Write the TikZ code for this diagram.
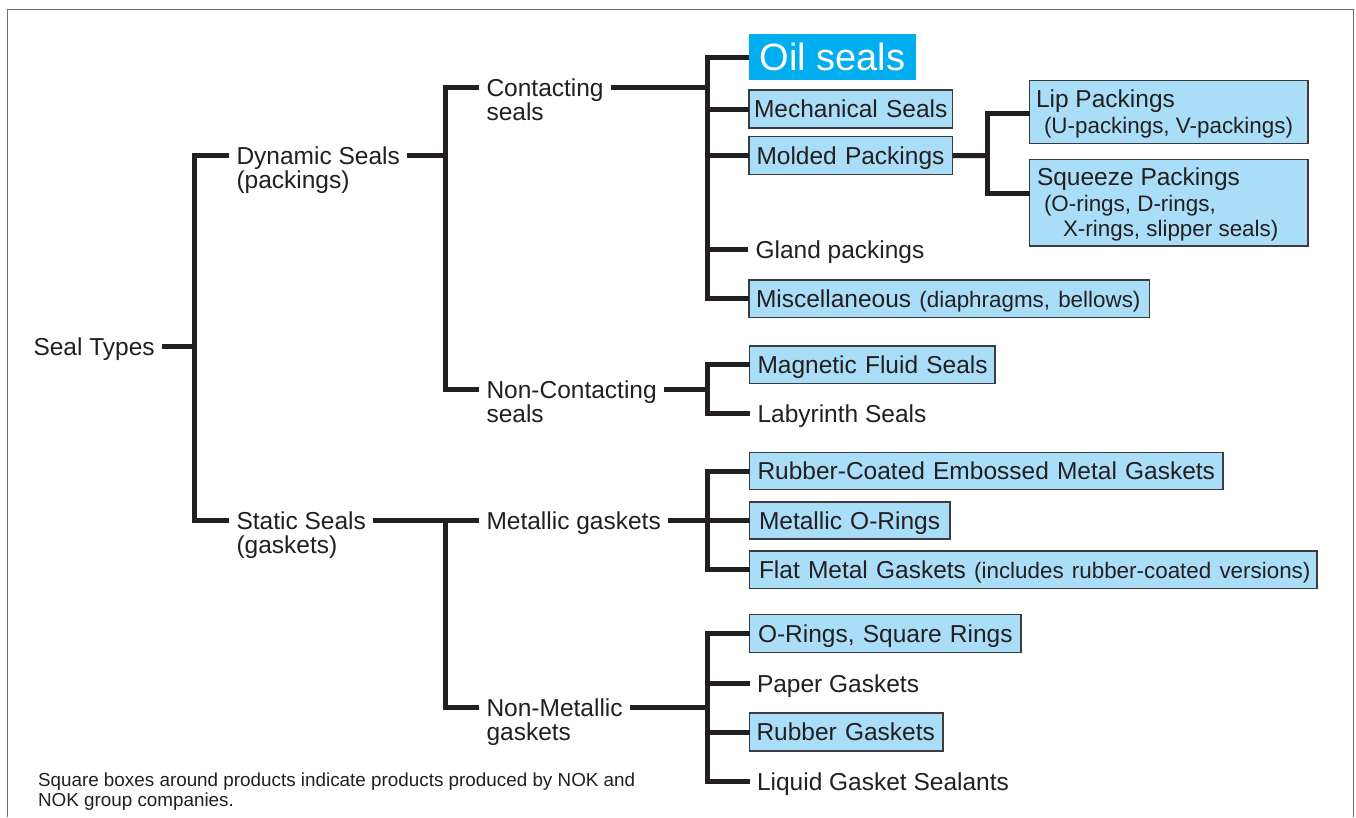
\documentclass[tikz,border=0pt]{standalone}
\usepackage{fontspec}
\setmainfont{Liberation Sans}
\definecolor{ink}{RGB}{35,31,32}
\definecolor{boxfill}{RGB}{170,222,248}
\definecolor{boxline}{RGB}{60,60,62}
\definecolor{oilcyan}{RGB}{0,174,239}
\definecolor{framegray}{RGB}{110,110,112}
\newcommand\subtxt[1]{{\fontsize{22.4}{26}\selectfont #1}}
\begin{document}
\begin{tikzpicture}[x=1pt,y=-1pt,
  conn/.style={draw=ink,line width=5pt,line join=miter,line cap=butt},
  lbl/.style={anchor=west,inner xsep=7.5pt,inner ysep=0pt,outer sep=0pt,text height=18pt,text depth=0pt,font=\fontsize{24.5}{28}\selectfont,text=ink},
  sub/.style={anchor=base west,inner xsep=7.5pt,inner ysep=0pt,outer sep=0pt,font=\fontsize{24.5}{28}\selectfont,text=ink},
  pbox/.style={draw=boxline,line width=1.1pt,fill=boxfill,anchor=north west,inner ysep=0pt,outer sep=0pt,text height=17.5pt,text depth=0pt,align=left,font=\fontsize{24.5}{28}\selectfont,text=ink},
  txt/.style={anchor=base west,inner sep=0pt,outer sep=0pt,font=\fontsize{24.5}{28}\selectfont,text=ink},
  txtsmall/.style={txt,font=\fontsize{22.4}{26}\selectfont},
  foot/.style={txt,font=\fontsize{18.85}{22}\selectfont}]
\useasboundingbox (0,0) rectangle (1356,817);
\fill[white] (0,0) rectangle (1356,817);
\draw[framegray,line width=1pt] (7,817) -- (7,9.5) -- (1353,9.5) -- (1353,817);

% labels
\node[lbl] (seal) at (26,346) {Seal Types};
\node[lbl] (dyn) at (229,155) {Dynamic Seals};
\node[sub] (dyn2) at ([yshift=-24.5pt]dyn.base west) {(packings)};
\node[lbl] (sta) at (229,520) {Static Seals};
\node[sub] (sta2) at ([yshift=-24.5pt]sta.base west) {(gaskets)};
\node[lbl] (con) at (479,87) {Contacting};
\node[sub] (con2) at ([yshift=-24pt]con.base west) {seals};
\node[lbl] (ncon) at (479,389) {Non-Contacting};
\node[sub] (ncon2) at ([yshift=-24pt]ncon.base west) {seals};
\node[lbl] (met) at (479,520) {Metallic gaskets};
\node[lbl] (nmet) at (479,707) {Non-Metallic};
\node[sub] (nmet2) at ([yshift=-24pt]nmet.base west) {gaskets};

% boxes
\node[anchor=north west,fill=oilcyan,text=white,minimum width=167pt,minimum height=46pt,inner sep=0pt,outer sep=0pt,text height=27.2pt,text depth=0pt,font=\fontsize{38}{44}\selectfont] (oil) at (749,34) {Oil seals};
\node[pbox,text width=193.5pt,inner xsep=5pt,minimum height=38pt] (mech) at (749,90) {\mbox{Mechanical Seals}};
\node[pbox,text width=188.5pt,inner xsep=7.5pt,minimum height=37.8pt] (mold) at (749,136.7) {\mbox{Molded Packings}};
\node[pbox,text width=262.5pt,inner xsep=8pt,minimum height=63pt] (lip) at (1029.5,80.5) {};
\node[pbox,text width=262.5pt,inner xsep=8pt,minimum height=86.5pt] (squ) at (1029.5,159.5) {};
\node[txt] (lipa) at (1036,107.7) {Lip Packings};
\node[txtsmall] (lipb) at (1044,133.3) {(U-packings, V-packings)};
\node[txt] (squa) at (1037,185) {Squeeze Packings};
\node[txtsmall] (squb) at (1044,211.5) {(O-rings, D-rings,};
\node[txtsmall] (squc) at (1063,236.7) {X-rings, slipper seals)};
\node[lbl] (gland) at (748,249) {Gland packings};
\node[pbox,text width=386.5pt,inner xsep=7pt,minimum height=37.7pt] (misc) at (749,280) {\mbox{Miscellaneous \subtxt{(diaphragms, bellows)}}};
\node[pbox,text width=229.5pt,inner xsep=8pt,minimum height=37.5pt] (mag) at (749.5,346) {\mbox{Magnetic Fluid Seals}};
\node[lbl] (lab) at (750,413) {Labyrinth Seals};
\node[pbox,text width=457.5pt,inner xsep=8pt,minimum height=37pt] (rub) at (749.5,452.5) {\mbox{Rubber-Coated Embossed Metal Gaskets}};
\node[pbox,text width=181.5pt,inner xsep=9.5pt,minimum height=37pt] (mor) at (749.5,502) {\mbox{Metallic O-Rings}};
\node[pbox,text width=548.5pt,inner xsep=9.5pt,minimum height=37.5pt] (flat) at (749.5,551) {\mbox{Flat Metal Gaskets \subtxt{(includes rubber-coated versions)}}};
\node[pbox,text width=254.5pt,inner xsep=8.5pt,minimum height=38pt] (osq) at (749.5,614.5) {\mbox{O-Rings, Square Rings}};
\node[lbl] (paper) at (749.5,683) {Paper Gaskets};
\node[pbox,text width=179.5pt,inner xsep=7pt,minimum height=38pt] (rgk) at (749.5,713) {\mbox{Rubber Gaskets}};
\node[lbl] (liq) at (749.5,781) {Liquid Gasket Sealants};

% footnote
\node[foot] (fn1) at (38,786.7) {Square boxes around products indicate products produced by NOK and};
\node[foot] (fn2) at (38,806.5) {NOK group companies.};

% junctions
\coordinate (j0) at (194.5,346);
\coordinate (j1a) at (445,155);
\coordinate (j1b) at (445,520);
\coordinate (j2a) at (707,87);
\coordinate (j2b) at (707,389);
\coordinate (j2c) at (707,520);
\coordinate (j2d) at (707,707);
\coordinate (j3) at (987,155.5);

% connectors
\draw[conn] (seal.east) -- (j0);
\draw[conn] (dyn.west) -| (j0) |- (sta.west);
\draw[conn] (dyn.east) -- (j1a);
\draw[conn] (con.west) -| (j1a) |- (ncon.west);
\draw[conn] (sta.east) -- (met.west);
\draw[conn] (j1b) |- (nmet.west);
\draw[conn] (con.east) -- (j2a);
\draw[conn] (oil.west) -| (j2a) |- (misc.west);
\draw[conn] (j2a |- mech.west) -- (mech.west);
\draw[conn] (j2a |- mold.west) -- (mold.west);
\draw[conn] (j2a |- gland.west) -- (gland.west);
\draw[conn] (mold.east) -- (j3);
\draw[conn] ([yshift=-32.8pt]lip.north west) -| (j3) |- ([yshift=-33.8pt]squ.north west);
\draw[conn] (ncon.east) -- (j2b);
\draw[conn] (mag.west) -| (j2b) |- (lab.west);
\draw[conn] (met.east) -- (j2c);
\draw[conn] (rub.west) -| (j2c) |- (flat.west);
\draw[conn] (j2c |- mor.west) -- (mor.west);
\draw[conn] (nmet.east) -- (j2d);
\draw[conn] (osq.west) -| (j2d) |- (liq.west);
\draw[conn] (j2d |- paper.west) -- (paper.west);
\draw[conn] (j2d |- rgk.west) -- (rgk.west);
\end{tikzpicture}
\end{document}
